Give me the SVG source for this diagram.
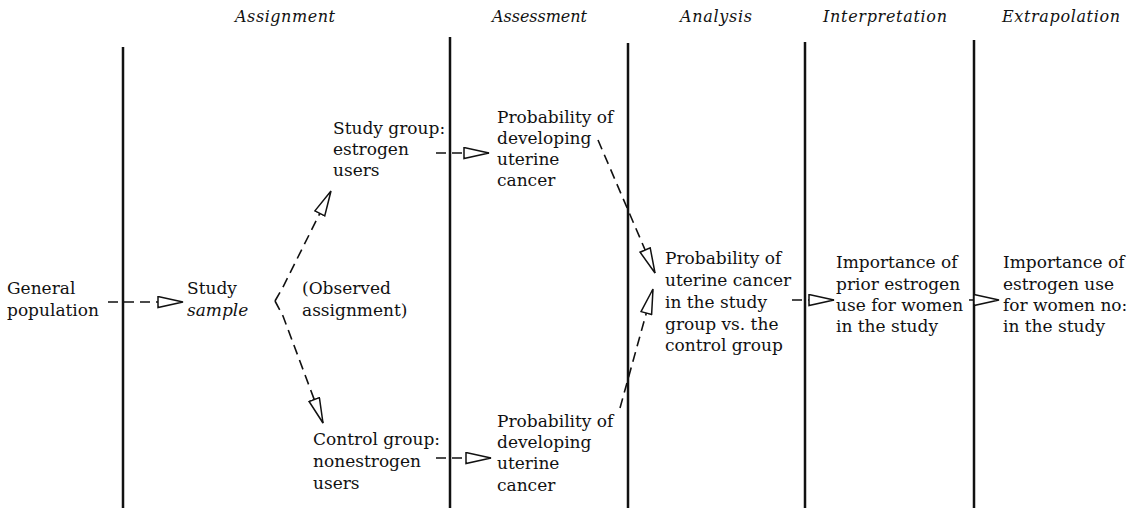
<svg xmlns="http://www.w3.org/2000/svg" width="1146" height="513" viewBox="0 0 1146 513">
  <style>
    text { font-family: "DejaVu Serif", "Liberation Serif", serif; font-size: 17px; fill: #111; }
    .hdr { font-style: italic; font-size: 16px; }
    .it { font-style: italic; }
    .rule { stroke: #111; stroke-width: 2.5; }
    .flow { stroke: #111; stroke-width: 1.6; stroke-dasharray: 10 6; fill: none; marker-end: url(#tri); }
  </style>
  <defs>
    <!-- open triangular arrowhead used by every dashed flow -->
    <marker id="tri" viewBox="0 0 27 13" refX="26" refY="6.5" markerWidth="27" markerHeight="13" markerUnits="userSpaceOnUse" orient="auto">
      <path d="M1,1 L26,6.5 L1,12 Z" fill="#fff" stroke="#111" stroke-width="1.5" stroke-dasharray="none"/>
    </marker>
  </defs>
  <rect width="1146" height="513" fill="#fff"/>

  <!-- stage headings -->
  <g id="headings">
    <text class="hdr" x="235" y="22" textLength="100" lengthAdjust="spacing">Assignment</text>
    <text class="hdr" x="492" y="22" textLength="95" lengthAdjust="spacing">Assessment</text>
    <text class="hdr" x="680" y="22" textLength="72" lengthAdjust="spacing">Analysis</text>
    <text class="hdr" x="823" y="22" textLength="124" lengthAdjust="spacing">Interpretation</text>
    <text class="hdr" x="1002" y="22" textLength="118" lengthAdjust="spacing">Extrapolation</text>
  </g>

  <!-- stage dividers -->
  <g id="dividers">
    <line class="rule" x1="123" y1="47" x2="123" y2="508"/>
    <line class="rule" x1="450" y1="37" x2="450" y2="508"/>
    <line class="rule" x1="628" y1="43" x2="628" y2="508"/>
    <line class="rule" x1="805" y1="42" x2="805" y2="508"/>
    <line class="rule" x1="974" y1="40" x2="974" y2="508"/>
  </g>

  <g id="general-population">
    <text x="7" y="294">General</text>
    <text x="7" y="316">population</text>
  </g>
  <g id="study-sample">
    <text x="187" y="294">Study</text>
    <text class="it" x="187" y="316">sample</text>
  </g>
  <g id="observed-assignment">
    <text x="302" y="294">(Observed</text>
    <text x="302" y="316">assignment)</text>
  </g>
  <g id="study-group">
    <text x="333" y="134">Study group:</text>
    <text x="333" y="155">estrogen</text>
    <text x="333" y="176">users</text>
  </g>
  <g id="control-group">
    <text x="313" y="445">Control group:</text>
    <text x="313" y="467">nonestrogen</text>
    <text x="313" y="489">users</text>
  </g>
  <g id="probability-study">
    <text x="497" y="123">Probability of</text>
    <text x="497" y="144">developing</text>
    <text x="497" y="165">uterine</text>
    <text x="497" y="186">cancer</text>
  </g>
  <g id="probability-control">
    <text x="497" y="427">Probability of</text>
    <text x="497" y="448">developing</text>
    <text x="497" y="469">uterine</text>
    <text x="497" y="491">cancer</text>
  </g>
  <g id="comparison">
    <text x="665" y="264">Probability of</text>
    <text x="665" y="286">uterine cancer</text>
    <text x="665" y="308">in the study</text>
    <text x="665" y="330">group vs. the</text>
    <text x="665" y="351">control group</text>
  </g>
  <g id="interpretation">
    <text x="836" y="268">Importance of</text>
    <text x="836" y="290">prior estrogen</text>
    <text x="836" y="311">use for women</text>
    <text x="836" y="332">in the study</text>
  </g>
  <g id="extrapolation">
    <text x="1003" y="268">Importance of</text>
    <text x="1003" y="290">estrogen use</text>
    <text x="1003" y="311">for women no:</text>
    <text x="1003" y="332">in the study</text>
  </g>

  <!-- dashed flow arrows -->
  <g id="connectors">
    <path class="flow" d="M108,302 L183,302"/>
    <path class="flow" d="M275,301 L283,287 L331,191"/>
    <path class="flow" d="M275,301 L283,316 L323,423"/>
    <path class="flow" d="M436,153 L489,153"/>
    <path class="flow" d="M436,458 L491,458"/>
    <path class="flow" d="M598,140 L655,273"/>
    <path class="flow" d="M620,408 L653,289"/>
    <path class="flow" d="M792,300 L834,300"/>
    <path class="flow" d="M969,300 L999,300"/>
  </g>
</svg>
